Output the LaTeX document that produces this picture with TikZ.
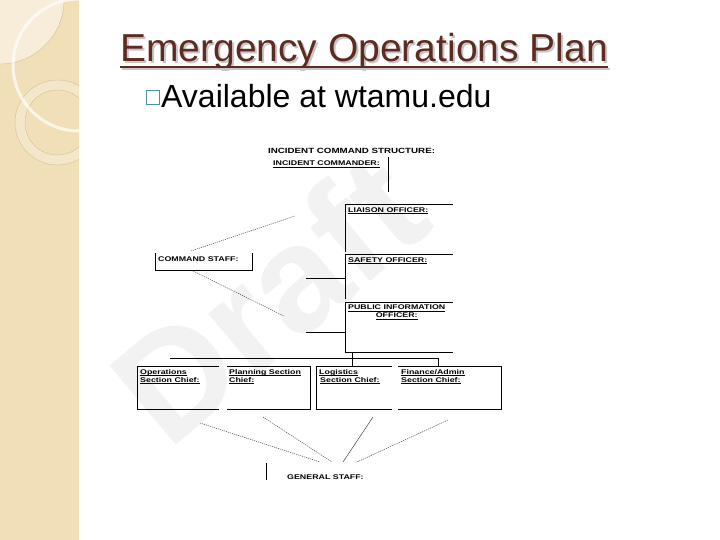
\documentclass[tikz,border=0pt]{standalone}
\usepackage{fontspec}
\setmainfont{Liberation Sans}
\newfontfamily\chartfont[FakeStretch=1.3]{Liberation Sans}
\usetikzlibrary{positioning}
\definecolor{strip}{RGB}{241,223,184}
\definecolor{stripl}{RGB}{247,237,216}
\definecolor{ringc}{RGB}{214,192,150}
\definecolor{titlec}{RGB}{94,43,33}
\definecolor{bull}{RGB}{72,148,168}
\newcommand\ul[1]{\underline{\raisebox{0pt}[\height][0pt]{#1}}}

\begin{document}
\begin{tikzpicture}[x=1pt, y=-1pt,
    cf/.style={inner sep=0pt, font=\chartfont\fontsize{6.8}{8}\selectfont\bfseries},
    lab/.style={cf, anchor=base west},
    blk/.style={cf, anchor=north west, align=left},
    ln/.style={line width=0.9pt},
    dl/.style={line width=0.45pt, black!75, dash pattern=on 1.2pt off 0.9pt},
]
    \useasboundingbox (0,0) rectangle (720,540);
    % side strip
    \begin{scope}
        \clip (0,0) rectangle (79,540);
        \fill[strip] (0,0) rectangle (79,540);
        \fill[stripl] (0,0) circle (64);
        \draw[ringc, line width=0.4pt] (0,0) circle (64);
        \fill[stripl!50!strip] (57.5,122.5) circle (42.5);
        \fill[strip] (57.5,122.5) circle (32.5);
        \draw[ringc, line width=0.4pt] (57.5,122.5) circle (42.5) (57.5,122.5) circle (32.5);
        \draw[white, opacity=0.7, line width=3pt] (79,65) circle (66);
    \end{scope}
    % watermark
    \node[rotate=40, text=black!5, font=\fontsize{150}{150}\selectfont\bfseries] (draft) at (268,298) {Draft};
    % title and bullet
    \node[anchor=base west, inner sep=0pt, text=black!22, font=\fontsize{39}{39}\selectfont] at (122,64) {Emergency Operations Plan};
    \node[anchor=base west, inner sep=0pt, text=titlec, font=\fontsize{39}{39}\selectfont] (title) at (120,62) {Emergency Operations Plan};
    \draw[black!22, line width=2.5pt] ([xshift=2pt, yshift=-7pt]title.base west) -- ([xshift=2pt, yshift=-7pt]title.base east);
    \draw[titlec, line width=2.5pt] ([yshift=-5pt]title.base west) -- ([yshift=-5pt]title.base east);
    \draw[bull, line width=1pt] (146.5,91) rectangle (159.5,105);
    \node[anchor=base west, inner sep=0pt, font=\fontsize{32}{32}\selectfont] (avail) at (161,108) {Available at wtamu.edu};
    % chart labels
    \node[lab, font=\chartfont\fontsize{7.5}{8}\selectfont\bfseries] (ics) at (268,154) {INCIDENT COMMAND STRUCTURE:};
    \node[lab] (ic) at (273,166) {\ul{INCIDENT COMMANDER:}};
    \node[lab] (liaison) at (348,212) {\ul{LIAISON OFFICER:}};
    \node[lab] (safety) at (348,262) {\ul{SAFETY OFFICER:}};
    \node[blk, align=center] (pio) at (348,305) {\ul{PUBLIC INFORMATION}\\\ul{OFFICER:}};
    \node[lab] (cmdstaff) at (158,261) {COMMAND STAFF:};
    \node[blk] (ops) at (140,369) {\ul{Operations}\\\ul{Section Chief:}};
    \node[blk] (plan) at (229,369) {\ul{Planning Section}\\\ul{Chief:}};
    \node[blk] (logi) at (319,369) {\ul{Logistics}\\\hspace{1pt}\ul{Section Chief:}};
    \node[blk] (fin) at (401,369) {\ul{Finance/Admin}\\\ul{Section Chief:}};
    \node[lab] (genstaff) at (287,479) {GENERAL STAFF:};
    % command staff lines
    \draw[ln] (388,157) -- (388,192);
    \draw[ln] (453,204) -- (345,204) -- (345,252);
    \draw[ln] (453,254) -- (345,254) -- (345,299);
    \draw[ln] (306,278) -- (345,278);
    \draw[ln] (453,302) -- (345,302) -- (345,352) -- (453,352);
    \draw[ln] (306,332) -- (345,332);
    \draw[ln] (155,253) -- (155,270) -- (252,270) -- (252,253);
    \draw[dl] (191,251) -- (295,216);
    \draw[dl] (193,271) -- (284,316);
    % section chiefs
    \draw[ln] (170,358) -- (438,358) -- (438,366);
    \draw[ln] (352,352) -- (352,366);
    \draw[ln] (219,366) -- (137,366) -- (137,409) -- (219,409);
    \draw[ln] (227,366) -- (310,366) -- (310,409) -- (227,409);
    \draw[ln] (392,366) -- (316,366) -- (316,409) -- (392,409);
    \draw[ln] (398,366) -- (501,366) -- (501,409) -- (398,409);
    % general staff
    \draw[dl] (200,423) -- (320,462);
    \draw[dl] (263,417) -- (332,462);
    \draw[line width=0.45pt, black!75] (373,417) -- (343,462);
    \draw[dl] (448,420) -- (357,462);
    \draw[ln] (266,463) -- (266,480);
\end{tikzpicture}
\end{document}
